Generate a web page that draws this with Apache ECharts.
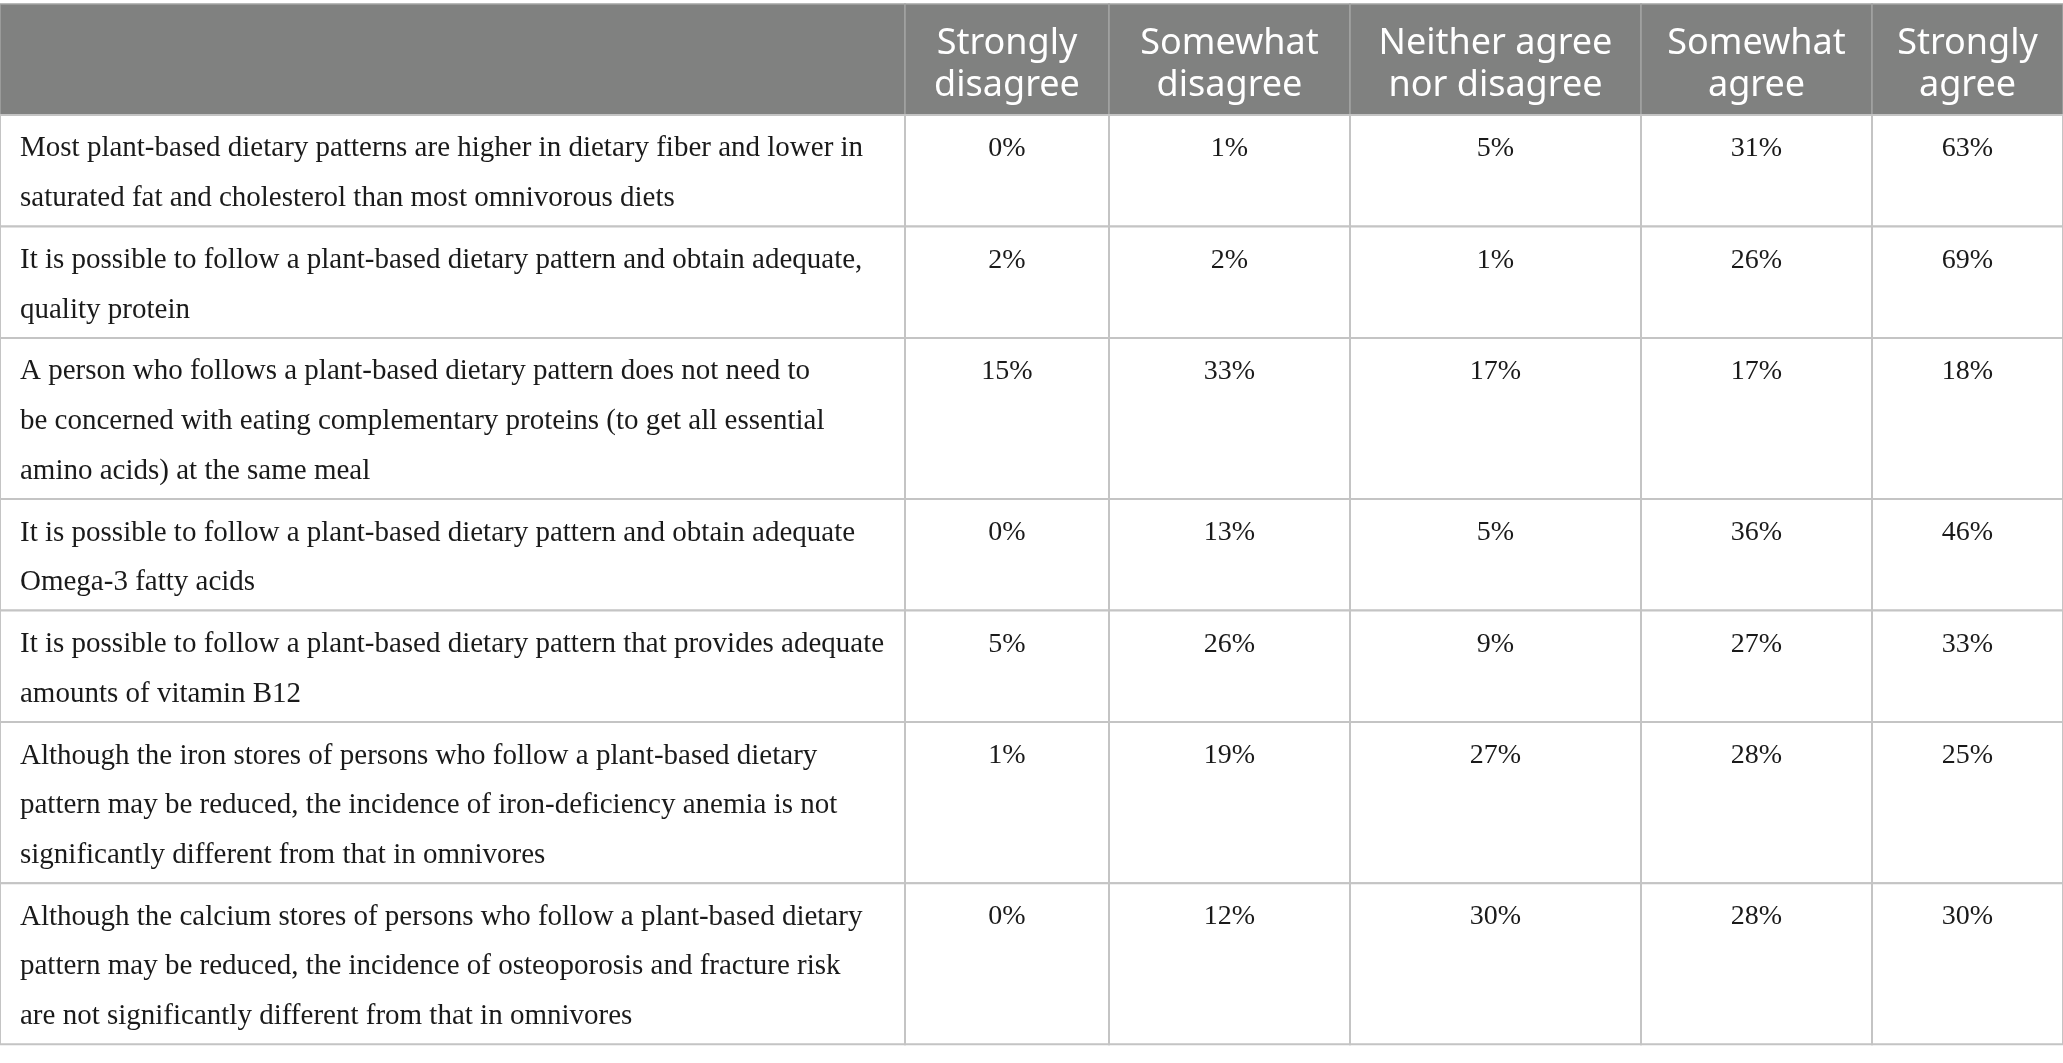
<!DOCTYPE html>
<html>
<head>
<meta charset="utf-8">
<script src="https://cdn.jsdelivr.net/npm/echarts@6/dist/echarts.min.js"></script>
<style>
  html, body { margin: 0; padding: 0; background: #fff; }
  #main { width: 2063px; height: 1063px; }
</style>
</head>
<body>
<div id="main"></div>
<script>
// column headers
var headers = ['', 'Strongly\ndisagree', 'Somewhat\ndisagree', 'Neither agree\nnor disagree', 'Somewhat\nagree', 'Strongly\nagree'];

// statements (line breaks as in the table)
var statements = [
	'Most plant-based dietary patterns are higher in dietary fiber and lower in\nsaturated fat and cholesterol than most omnivorous diets',
	'It is possible to follow a plant-based dietary pattern and obtain adequate,\nquality protein',
	'A person who follows a plant-based dietary pattern does not need to\nbe concerned with eating complementary proteins (to get all essential\namino acids) at the same meal',
	'It is possible to follow a plant-based dietary pattern and obtain adequate\nOmega-3 fatty acids',
	'It is possible to follow a plant-based dietary pattern that provides adequate\namounts of vitamin B12',
	'Although the iron stores of persons who follow a plant-based dietary\npattern may be reduced, the incidence of iron-deficiency anemia is not\nsignificantly different from that in omnivores',
	'Although the calcium stores of persons who follow a plant-based dietary\npattern may be reduced, the incidence of osteoporosis and fracture risk\nare not significantly different from that in omnivores'
];

// answers in %
var stronglyDisagree = [0, 2, 15, 0, 5, 1, 0];
var somewhatDisagree = [1, 2, 33, 13, 26, 19, 12];
var neitherAgree     = [5, 1, 17, 5, 9, 27, 30];
var somewhatAgree    = [31, 26, 17, 36, 27, 28, 28];
var stronglyAgree    = [63, 69, 18, 46, 33, 25, 30];

var answers = [stronglyDisagree, somewhatDisagree, neitherAgree, somewhatAgree, stronglyAgree];

// layout
var colWidths = [905, 204, 241, 291, 231, 191];
var headTop = 4, headBottom = 115;
var lineH = 49.6, rowPad = 12.3;

var colEdges = [0];
colWidths.forEach(function (w, i) { colEdges.push(colEdges[i] + w); });

var rowEdges = [headTop, headBottom];
statements.forEach(function (s, i) {
	rowEdges.push(rowEdges[i + 1] + rowPad + s.split('\n').length * lineH);
});

var cells = [];
for (var r = -1; r < statements.length; r++) {
	for (var c = 0; c < headers.length; c++) {
		cells.push([c, r]);
	}
}

function renderCell(params, api) {
	var c = api.value(0), r = api.value(1);
	var p0 = api.coord([colEdges[c], rowEdges[r + 1]]);
	var p1 = api.coord([colEdges[c + 1], rowEdges[r + 2]]);
	var w = p1[0] - p0[0], h = p1[1] - p0[1];

	if (r < 0) {
		return {
			type: 'group',
			children: [{
				type: 'rect',
				shape: { x: p0[0], y: p0[1], width: w, height: h },
				style: { fill: '#808180', stroke: '#a3a4a3', lineWidth: 1.5 }
			}, {
				type: 'text',
				style: {
					text: headers[c],
					x: p0[0] + w / 2,
					y: p0[1] + h / 2 + 5,
					align: 'center',
					verticalAlign: 'middle',
					fontFamily: 'Noto Sans',
					fontSize: 36,
					lineHeight: 42,
					fill: '#ffffff'
				}
			}]
		};
	}

	var txt = c === 0 ? statements[r] : answers[c - 1][r] + '%';
	return {
		type: 'group',
		children: [{
			type: 'rect',
			shape: { x: p0[0], y: p0[1], width: w, height: h },
			style: { fill: '#ffffff', stroke: '#c4c4c4', lineWidth: 2 }
		}, {
			type: 'text',
			style: {
				text: txt,
				x: c === 0 ? p0[0] + 20 : p0[0] + w / 2,
				y: p0[1] + 9,
				align: c === 0 ? 'left' : 'center',
				verticalAlign: 'top',
				fontFamily: 'Liberation Serif',
				fontSize: c === 0 ? 29 : 28,
				lineHeight: lineH,
				fill: '#1a1a1a'
			}
		}]
	};
}

var myChart = echarts.init(document.getElementById('main'));
var option = {
	animation: false,
	grid: { left: 0, right: 0, top: 0, bottom: 0 },
	xAxis: { type: 'value', min: 0, max: 2063, show: false },
	yAxis: { type: 'value', min: 0, max: 1063, inverse: true, show: false },
	series: [{
		type: 'custom',
		renderItem: renderCell,
		clip: false,
		data: cells
	}]
};
myChart.setOption(option);
</script>
</body>
</html>
